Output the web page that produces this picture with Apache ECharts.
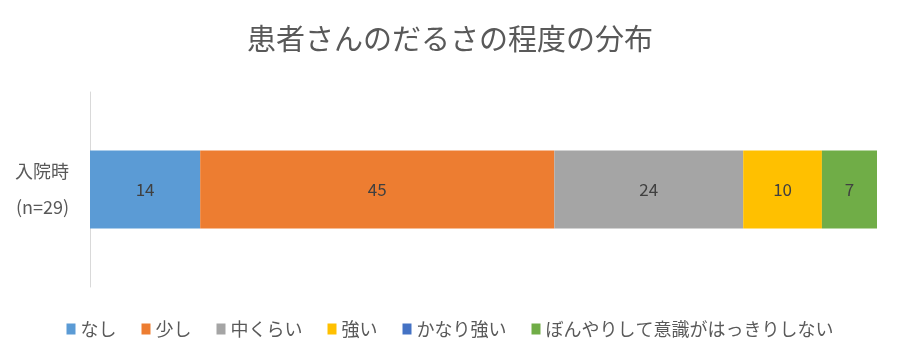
<!DOCTYPE html>
<html><head><meta charset="utf-8">
<script src="https://cdn.jsdelivr.net/npm/echarts@6/dist/echarts.min.js"></script>
<style>html,body{margin:0;padding:0;background:#fff}#c{width:900px;height:360px}</style>
</head><body><div id="c"></div>
<script>
const categories = ['入院時\n(n=29)'];
const seriesNames = ['なし','少し','中くらい','強い','かなり強い','ぼんやりして意識がはっきりしない'];
const values_nashi = [14];
const values_sukoshi = [45];
const values_naka = [24];
const values_tsuyoi = [10];
const values_kanari = [0];
const values_bonyari = [7];
const allValues = [values_nashi, values_sukoshi, values_naka, values_tsuyoi, values_kanari, values_bonyari];
const colors = ['#5B9BD5','#ED7D31','#A5A5A5','#FFC000','#4472C4','#70AD47'];
const font = '"Noto Sans CJK JP", "Noto Sans", sans-serif';
const chart = echarts.init(document.getElementById('c'));
chart.setOption({
  animation:false,
  title:{text:'患者さんのだるさの程度の分布', left:'center', top:19,
    textStyle:{fontFamily:font, fontSize:29, fontWeight:'normal', color:'#595959'}},
  legend:{bottom:17, left:'center', itemWidth:9, itemHeight:11, itemGap:25, icon:'rect',
    data: seriesNames,
    textStyle:{fontFamily:font, fontSize:18, color:'#595959'}},
  grid:{left:90, right:23, top:92, bottom:73},
  xAxis:{type:'value', min:0, max:100, show:false},
  yAxis:{type:'category', data:categories,
    axisLine:{show:true, lineStyle:{color:'#D9D9D9', width:1}},
    axisTick:{show:false},
    axisLabel:{fontFamily:font, fontSize:18, color:'#595959', lineHeight:36, margin:21}},
  series: seriesNames.map((n,i)=>({
    name:n, type:'bar', stack:'a', barWidth:78, data:allValues[i],
    itemStyle:{color:colors[i]},
    label:{show: allValues[i][0]>0, position:'inside', fontFamily:font, fontSize:17, color:'#404040'}
  }))
});
</script></body></html>
